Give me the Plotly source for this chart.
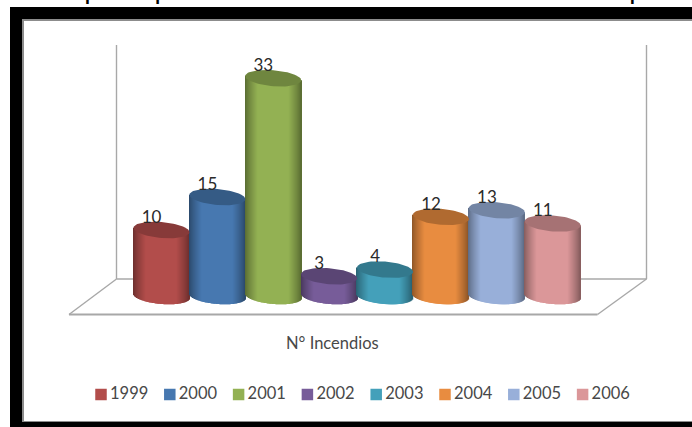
import plotly.graph_objects as go
import math

years = ["1999", "2000", "2001", "2002", "2003", "2004", "2005", "2006"]
incendios = [10, 15, 33, 3, 4, 12, 13, 11]
colors = ["#B24D4B", "#4778B0", "#93B153", "#775C99", "#44A0BA", "#E88C40", "#98AFD9", "#DB9799"]
heading = "Gráfica que representa el número total de incendios por"
series_name = "N° Incendios"

W, H = 692, 427
X0, DX = 161.5, 55.9      # pixel centre of first cylinder, spacing
Y0, DY = 296.0, 6.6       # pixel height of value 0, pixels per unit
RX, RY, TILT = 28.0, 8.0, 2.2
GRAY = "#A8A8A8"


def shade(hex_color, f):
    r, g, b = (int(hex_color[i:i + 2], 16) for i in (1, 3, 5))
    return "#%02x%02x%02x" % (min(255, int(r * f)), min(255, int(g * f)), min(255, int(b * f)))


def px_x(p):
    return (p - X0) / DX


def px_y(p):
    return (Y0 - p) / DY


fig = go.Figure()
steps = 56
for i, (year, val, col) in enumerate(zip(years, incendios, colors)):
    xs, bases, heights, cols = [], [], [], []
    for s in range(steps):
        t = (s + 0.5) / steps * 2 - 1
        root = math.sqrt(1 - t * t)
        tilt = -TILT * t / DY
        bottom = -RY * root / DY + tilt
        top = val + tilt
        xs.append(i + t * RX / DX)
        bases.append(bottom)
        heights.append(top - bottom)
        edge = min(1.0, (1 - abs(t)) / 0.45)
        cols.append(shade(col, 0.6 + 0.4 * edge ** 0.8))
    fig.add_bar(x=xs, y=heights, base=bases, width=1.25 / DX, marker=dict(color=cols, line_width=0),
                showlegend=False, hoverinfo="skip", name=year)
    ex, ey = [], []
    for k in range(73):
        a = 2 * math.pi * k / 72
        c, sn = math.cos(a), math.sin(a)
        ex.append(i + c * RX / DX)
        ey.append(val + (RY * sn - TILT * c) / DY)
    fig.add_scatter(x=ex, y=ey, mode="lines", fill="toself", fillcolor=shade(col, 0.76),
                    line=dict(width=0, color=shade(col, 0.76)), showlegend=False, hoverinfo="skip")

# value labels
fig.add_scatter(x=[i - 10 / DX for i in range(len(years))],
                y=[v + 11.5 / DY for v in incendios],
                text=[str(v) for v in incendios], mode="text", textposition="middle center",
                textfont=dict(family="Lato", size=17, color="#2a2a2a"),
                showlegend=False, hoverinfo="skip")

# legend row
leg_x, leg_pitch, leg_y = 101, 68.8, 394.5
for i, (year, col) in enumerate(zip(years, colors)):
    fig.add_scatter(x=[px_x(leg_x + i * leg_pitch)], y=[px_y(leg_y)], mode="markers",
                    marker=dict(symbol="square", size=11.5, color=col, line_width=0),
                    showlegend=False, name=year, hoverinfo="name")
    fig.add_scatter(x=[px_x(leg_x + 9 + i * leg_pitch)], y=[px_y(leg_y + 0.5)], mode="text",
                    text=[year], textposition="middle right",
                    textfont=dict(family="Lato", size=16.5, color="#484848"),
                    showlegend=False, name=year, hoverinfo="skip")


def pt_x(p):
    return p / W


def pt_y(p):
    return 1 - p / H


def rect(x0, y0, x1, y1, col):
    return dict(type="rect", xref="paper", yref="paper", x0=pt_x(x0), x1=pt_x(x1), y0=pt_y(y0), y1=pt_y(y1),
                fillcolor=col, line_width=0, layer="below")


def line(x0, y0, x1, y1, width=1.4):
    return dict(type="line", xref="paper", yref="paper", x0=pt_x(x0), x1=pt_x(x1), y0=pt_y(y0), y1=pt_y(y1),
                line=dict(color=GRAY, width=width), layer="below")


shapes = [
    rect(10, 7, W, H, "#000000"),
    rect(22, 19, W, 422, "#8C8C8C"),
    rect(24, 21, W, 421, "#FFFFFF"),
    line(116.5, 45, 116.5, 279), line(646.5, 45, 646.5, 279), line(116.5, 279, 646.5, 279),
    line(69, 314.5, 597.5, 314.5, 1.8), line(69, 314.5, 116.5, 279), line(597.5, 314.5, 646.5, 279),
]
annotations = [
    dict(text=heading, xref="paper", yref="paper", x=pt_x(-24), y=pt_y(5.5), xanchor="left", yanchor="bottom",
         showarrow=False, font=dict(family="Liberation Sans", size=28, color="#000000"),
         borderpad=0, align="left"),
    dict(text=series_name, xref="paper", yref="paper", x=pt_x(332.5), y=pt_y(343), xanchor="center",
         yanchor="middle", showarrow=False, font=dict(family="Lato", size=16.5, color="#484848")),
]

fig.update_layout(
    width=W, height=H, margin=dict(l=0, r=0, t=0, b=0), autosize=False,
    paper_bgcolor="#FFFFFF", plot_bgcolor="rgba(0,0,0,0)", barmode="overlay", showlegend=False,
    xaxis=dict(range=[px_x(0), px_x(W)], visible=False, fixedrange=True),
    yaxis=dict(range=[px_y(H), px_y(0)], visible=False, fixedrange=True),
    shapes=shapes, annotations=annotations,
)
fig.write_html("out.html", config=dict(displayModeBar=False), post_script="document.body.style.margin='0';")
